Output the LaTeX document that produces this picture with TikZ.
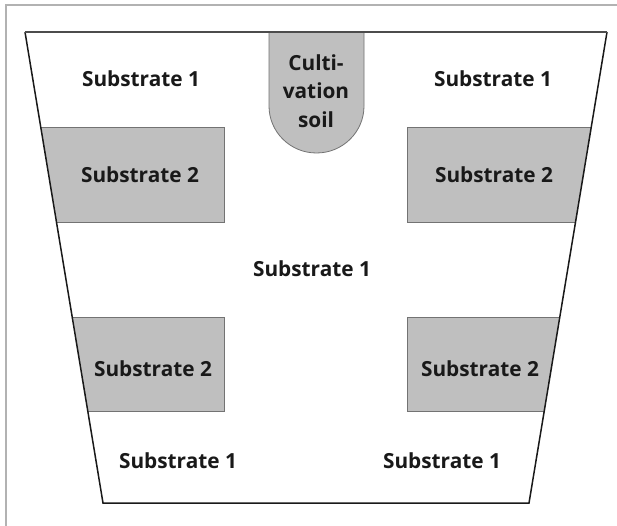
\documentclass[tikz,border=0pt]{standalone}
\usepackage{fontspec}
\setmainfont{Open Sans}
\begin{document}
\begin{tikzpicture}[x=1pt,y=-1pt,
  lbl/.style={font=\bfseries\fontsize{20.8}{28.5}\selectfont, text=black!90, inner sep=0pt, align=center},
  sub2/.style={fill=black!25, draw=black!55, line width=0.8pt},
  pot/.style={draw=black!90, line width=1.5pt, line join=miter}]
  % page area and frame
  \useasboundingbox (0,0) rectangle (617,526);
  \fill[white] (0,0) rectangle (617,526);
  \draw[black!30, line width=1.5pt] (6,540) -- (6,5) -- (630,5);

  % pot outline coordinates
  \coordinate (tl) at (25,32);
  \coordinate (tr) at (607,32);
  \coordinate (br) at (529,503);
  \coordinate (bl) at (103,503);

  % substrate 2 blocks and cultivation soil, clipped by the pot
  \begin{scope}
    \clip (tl) -- (tr) -- (br) -- (bl) -- cycle;
    \draw[sub2] (0,127) rectangle (224,222);
    \draw[sub2] (407,127) rectangle (620,222);
    \draw[sub2] (0,317) rectangle (224,411);
    \draw[sub2] (407,317) rectangle (620,411);
    \draw[sub2] (269,20) -- (269,106)
      arc[start angle=180, end angle=360, x radius=47.5, y radius=-47] -- (364,20);
  \end{scope}

  % pot outline: top edge a little lighter than the sides and bottom
  \draw[pot] (tr) -- (br) -- (bl) -- (tl);
  \draw[pot, draw=black!70] (tl) -- (tr);

  % labels
  \node[lbl] (s1tl) at (141,79) {Substrate 1};
  \node[lbl] (s1tr) at (493,79) {Substrate 1};
  \node[lbl] (s2ul) at (140,175) {Substrate 2};
  \node[lbl] (s2ur) at (494,175) {Substrate 2};
  \node[lbl] (s1c)  at (312,269) {Substrate 1};
  \node[lbl] (s2ll) at (153,369) {Substrate 2};
  \node[lbl] (s2lr) at (480,369) {Substrate 2};
  \node[lbl] (s1bl) at (178,461) {Substrate 1};
  \node[lbl] (s1br) at (442,461) {Substrate 1};
  \node[lbl] (soil) at (316,91) {Culti-\\vation\\soil};
\end{tikzpicture}
\end{document}
